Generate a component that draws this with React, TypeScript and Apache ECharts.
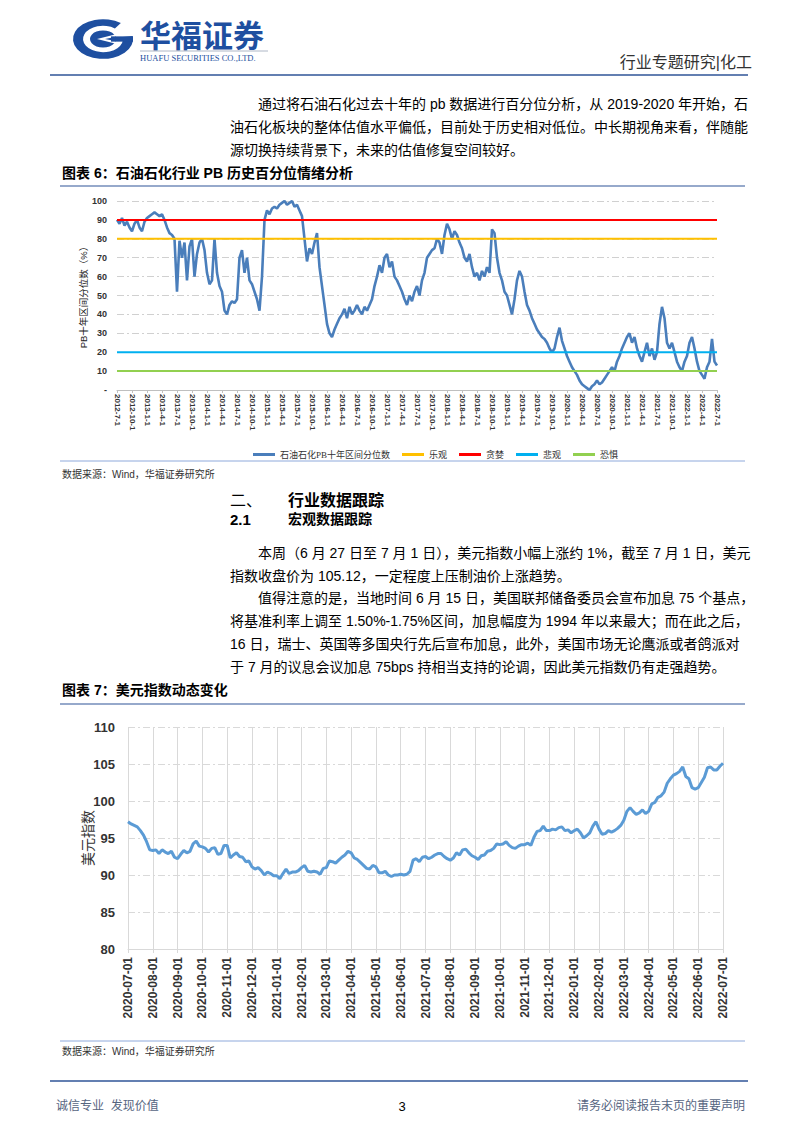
import React, { useEffect, useRef } from "react";
import * as echarts from "echarts";

const SANS = '"Liberation Sans", "Noto Sans CJK SC", sans-serif';
const SERIF = '"Liberation Serif", "Noto Sans CJK SC", serif';
const BLUE = "#1e4fa0";
const RULE = "#2f5597";

// ---------- Chart 6: PB percentile ----------
const pbQuarterLabels = [
  "2012-7-1", "2012-10-1", "2013-1-1", "2013-4-1", "2013-7-1", "2013-10-1",
  "2014-1-1", "2014-4-1", "2014-7-1", "2014-10-1", "2015-1-1", "2015-4-1",
  "2015-7-1", "2015-10-1", "2016-1-1", "2016-4-1", "2016-7-1", "2016-10-1",
  "2017-1-1", "2017-4-1", "2017-7-1", "2017-10-1", "2018-1-1", "2018-4-1",
  "2018-7-1", "2018-10-1", "2019-1-1", "2019-4-1", "2019-7-1", "2019-10-1",
  "2020-1-1", "2020-4-1", "2020-7-1", "2020-10-1", "2021-1-1", "2021-4-1",
  "2021-7-1", "2021-10-1", "2022-1-1", "2022-4-1", "2022-7-1",
];
const pbPointsPerQuarter = 6;
const pbSeriesName = "石油石化PB十年区间分位数";
const pbPercentile = [
  90, 88, 91, 87, 89, 86,
  84, 88, 90, 86, 84, 89,
  91, 92, 93, 94, 93, 92,
  93, 90, 86, 83, 82, 80,
  52, 79, 70, 78, 58, 76,
  80, 60, 72, 78, 80, 74,
  62, 56, 58, 80, 62, 55,
  52, 42, 40, 45, 47, 46,
  48, 70, 74, 62, 70, 58,
  56, 52, 48, 42, 60, 90,
  95, 93, 96, 97, 96, 98,
  99, 100, 98, 99, 100, 97,
  98, 95, 92, 80, 68, 75,
  72, 78, 83, 65, 55, 45,
  35, 30, 28, 32, 35, 38,
  40, 43, 38, 44, 40, 42,
  45, 42, 40, 44, 42, 45,
  48, 55, 60, 66, 62, 70,
  72, 65, 68, 60, 58, 55,
  52, 48, 45, 50, 47, 52,
  55, 50, 58, 62, 70, 72,
  74, 75, 80, 78, 72, 82,
  88, 85, 80, 84, 82, 78,
  75, 70, 68, 72, 65, 60,
  62, 58, 63, 60, 65, 62,
  85, 83, 70, 62, 58, 52,
  50, 45, 40, 48, 58, 63,
  60, 52, 45, 42, 38, 35,
  32, 30, 28, 27, 25, 22,
  20, 22, 28, 33, 26, 22,
  18, 15, 12, 10, 8, 5,
  3, 2, 1, 0, 2, 3,
  5, 3, 4, 6, 8, 10,
  12, 10, 15, 18, 22, 25,
  28, 30, 25, 28, 22, 18,
  15, 20, 25, 18, 22, 16,
  20, 35, 44, 38, 25, 22,
  25, 20, 15, 12, 10, 15,
  18, 25, 28, 22, 15, 10,
  8, 6, 12, 15, 27, 15,
  13,
];
const sentimentNames = ["乐观", "贪婪", "悲观", "恐惧"];
const sentimentLevels = [80, 90, 20, 10];
const sentimentColors = ["#ffc000", "#ff0000", "#00b0f0", "#92d050"];

// ---------- Chart 7: US dollar index ----------
const dxyMonthLabels = [
  "2020-07-01", "2020-08-01", "2020-09-01", "2020-10-01", "2020-11-01", "2020-12-01",
  "2021-01-01", "2021-02-01", "2021-03-01", "2021-04-01", "2021-05-01", "2021-06-01",
  "2021-07-01", "2021-08-01", "2021-09-01", "2021-10-01", "2021-11-01", "2021-12-01",
  "2022-01-01", "2022-02-01", "2022-03-01", "2022-04-01", "2022-05-01", "2022-06-01",
  "2022-07-01",
];
const dxyPointsPerMonth = 8;
const dxyValues = [
  97.2, 96.9, 96.7, 96.5, 96.0, 95.4, 94.5, 93.4,
  93.3, 93.4, 92.9, 93.4, 93.1, 92.9, 93.2, 92.4,
  92.2, 92.8, 93.3, 93.0, 93.2, 94.2, 94.6, 93.9,
  93.8, 93.6, 93.1, 93.6, 93.7, 92.8, 92.9, 94.0,
  94.0, 92.3, 92.7, 93.0, 92.5, 92.4, 91.8, 91.9,
  91.1, 90.8, 91.0, 90.6, 90.0, 90.4, 90.2, 89.9,
  89.9, 89.5, 90.2, 90.8, 90.2, 90.4, 90.4, 90.6,
  91.0, 91.3, 90.5, 90.4, 90.5, 90.4, 90.1, 90.9,
  91.0, 91.9, 91.8, 91.6, 92.0, 92.4, 92.7, 93.2,
  93.0, 92.3, 92.1, 91.7, 91.3, 90.9, 90.8, 91.3,
  91.1, 90.3, 90.3, 90.5, 90.0, 89.8, 90.0, 90.0,
  90.1, 90.0, 90.1, 90.5, 92.0, 92.2, 91.8, 92.4,
  92.5, 92.2, 92.4, 92.7, 92.9, 92.9, 92.5, 92.2,
  92.0, 92.3, 93.0, 92.7, 93.4, 93.5, 93.0, 92.6,
  92.4, 92.1, 92.6, 92.7, 93.2, 93.3, 93.6, 94.2,
  94.1, 94.2, 94.5, 94.0, 93.7, 93.6, 93.9, 94.1,
  94.1, 94.3, 94.0, 95.1, 95.9, 96.0, 96.6, 96.0,
  96.0, 96.2, 96.1, 96.4, 96.5, 96.0, 96.1, 95.7,
  96.0, 96.2, 95.7, 95.0, 95.3, 95.7, 96.6, 97.2,
  96.2, 95.5, 95.6, 96.0, 95.8, 96.0, 96.3, 96.7,
  97.4, 98.6, 99.1, 98.6, 98.2, 98.4, 98.8, 98.3,
  98.6, 99.6, 99.8, 100.5, 100.7, 101.2, 102.4, 103.0,
  103.5, 103.7, 104.0, 104.6, 103.3, 103.0, 101.8, 101.6,
  101.8, 102.5, 103.2, 104.5, 104.6, 104.2, 104.2, 104.7,
  105.1,
];

// ---------- page text ----------
const para1 = [
  "通过将石油石化过去十年的 pb 数据进行百分位分析，从 2019-2020 年开始，石",
  "油石化板块的整体估值水平偏低，目前处于历史相对低位。中长期视角来看，伴随能",
  "源切换持续背景下，未来的估值修复空间较好。",
];
const para2 = [
  "本周（6 月 27 日至 7 月 1 日），美元指数小幅上涨约 1%，截至 7 月 1 日，美元",
  "指数收盘价为 105.12，一定程度上压制油价上涨趋势。",
];
const para3 = [
  "值得注意的是，当地时间 6 月 15 日，美国联邦储备委员会宣布加息 75 个基点，",
  "将基准利率上调至 1.50%-1.75%区间，加息幅度为 1994 年以来最大；而在此之后，",
  "16 日，瑞士、英国等多国央行先后宣布加息，此外，美国市场无论鹰派或者鸽派对",
  "于 7 月的议息会议加息 75bps 持相当支持的论调，因此美元指数仍有走强趋势。",
];

function txt(text: string, x: number, y: number, o: any = {}) {
  return {
    type: "text",
    x,
    y,
    rotation: o.rotation || 0,
    style: {
      text,
      fill: o.fill || "#000",
      fontSize: o.size || 14,
      fontFamily: o.family || SANS,
      fontWeight: o.weight || "normal",
      align: o.align || "left",
      verticalAlign: "middle",
    },
  };
}
function hline(x1: number, x2: number, y: number, stroke: string, w = 1) {
  return { type: "line", shape: { x1, y1: y, x2, y2: y }, style: { stroke, lineWidth: w } };
}

export default function App() {
  const ref = useRef<HTMLDivElement>(null);
  useEffect(() => {
    document.body.style.margin = "0";
    const chart = echarts.init(ref.current!, null, { renderer: "svg" });

    const graphic: any[] = [];
    // logo
    graphic.push({
      type: "group",
      x: 103,
      y: 39,
      scaleY: 0.66,
      children: [
        { type: "sector", shape: { cx: 0, cy: 0, r: 30, r0: 20, startAngle: -0.15, endAngle: 5.35 }, style: { fill: BLUE } },
        { type: "circle", shape: { cx: 0, cy: 0, r: 13 }, style: { fill: BLUE } },
        { type: "polygon", shape: { points: [[12, -7], [-6, 0], [12, 7], [12, 3], [2, 0], [12, -3]] }, style: { fill: "#fff" } },
        { type: "rect", shape: { x: 8, y: -4, width: 22, height: 8 }, style: { fill: BLUE } },
      ],
    });
    graphic.push(txt("华福证券", 140, 36, { size: 31, weight: "bold", family: SERIF, fill: BLUE }));
    graphic.push(hline(140, 268, 51, "#9aa5b8", 0.8));
    graphic.push(txt("HUAFU SECURITIES CO.,LTD.", 140, 58, { size: 8.5, family: SERIF, fill: BLUE }));
    graphic.push(txt("行业专题研究|化工", 752, 62, { size: 16, align: "right", fill: "#333" }));
    graphic.push(hline(50, 748, 75, RULE, 1.5));

    // paragraph 1
    para1.forEach((s, i) => graphic.push(txt(s, i === 0 ? 258 : 230, 104 + i * 23)));
    graphic.push(txt("图表 6：石油石化行业 PB 历史百分位情绪分析", 62, 173, { weight: "bold", size: 14 }));
    graphic.push(hline(60, 745, 186, RULE, 1.2));
    graphic.push(txt("PB十年区间分位数（%）", 83, 295, { size: 9.5, rotation: Math.PI / 2, align: "center", fill: "#222" }));
    graphic.push(hline(60, 745, 461, "#8ea9db", 1));
    graphic.push(txt("数据来源：Wind，华福证券研究所", 62, 474, { size: 10, fill: "#333" }));

    // section headings
    graphic.push(txt("二、", 230, 500, { size: 16 }));
    graphic.push(txt("行业数据跟踪", 288, 500, { size: 16, weight: "bold" }));
    graphic.push(txt("2.1", 230, 519, { size: 15, weight: "bold" }));
    graphic.push(txt("宏观数据跟踪", 288, 519, { size: 14, weight: "bold" }));

    para2.forEach((s, i) => graphic.push(txt(s, i === 0 ? 258 : 230, 553 + i * 23)));
    para3.forEach((s, i) => graphic.push(txt(s, i === 0 ? 258 : 230, 598 + i * 23)));

    graphic.push(txt("图表 7：美元指数动态变化", 62, 690, { weight: "bold", size: 14 }));
    graphic.push(hline(60, 745, 704, RULE, 1.2));
    graphic.push(txt("美元指数", 88, 838, { size: 14, rotation: Math.PI / 2, align: "center", fill: "#333" }));
    graphic.push(hline(60, 745, 1041, "#8ea9db", 1));
    graphic.push(txt("数据来源：Wind，华福证券研究所", 62, 1051, { size: 10, fill: "#333" }));

    // footer
    graphic.push(hline(50, 748, 1081, RULE, 1.5));
    graphic.push(txt("诚信专业  发现价值", 56, 1106, { size: 12, fill: "#56657f" }));
    graphic.push(txt("3", 402, 1106, { size: 13, align: "center", family: SANS }));
    graphic.push(txt("请务必阅读报告末页的重要声明", 745, 1106, { size: 12, align: "right", fill: "#56657f" }));

    const pbData = pbPercentile.map((v, i) => [i / pbPointsPerQuarter, v]);
    const lastQ = pbQuarterLabels.length - 1;
    const dxyData = dxyValues.map((v, i) => [i / dxyPointsPerMonth, v]);
    const lastM = dxyMonthLabels.length - 1;

    const dashDot = [7, 3, 2, 3];

    const option: any = {
      animation: false,
      backgroundColor: "#fff",
      graphic,
      legend: {
        left: 248,
        top: 445,
        icon: "rect",
        itemWidth: 22,
        itemHeight: 3,
        itemGap: 12,
        textStyle: { fontSize: 9, fontFamily: SERIF, color: "#333" },
        data: [pbSeriesName, ...sentimentNames],
      },
      grid: [
        { left: 117, top: 201, width: 600, height: 189 },
        { left: 128, top: 727, width: 595, height: 222 },
      ],
      xAxis: [
        {
          type: "value",
          gridIndex: 0,
          min: 0,
          max: lastQ,
          interval: 1,
          axisLine: { lineStyle: { color: "#bfbfbf" } },
          axisTick: { show: true, length: 3, lineStyle: { color: "#bfbfbf" } },
          splitLine: { show: false },
          axisLabel: {
            rotate: -90,
            fontSize: 8,
            fontWeight: "bold",
            fontFamily: SANS,
            color: "#333",
            margin: 4,
            formatter: (v: number) => pbQuarterLabels[Math.round(v)] ?? "",
          },
        },
        {
          type: "value",
          gridIndex: 1,
          min: 0,
          max: lastM,
          interval: 1,
          axisLine: { lineStyle: { color: "#d9d9d9" } },
          axisTick: { show: true, length: 4, lineStyle: { color: "#d9d9d9" } },
          splitLine: { show: true, lineStyle: { color: "#d9d9d9", width: 1 } },
          axisLabel: {
            rotate: 90,
            fontSize: 12,
            fontWeight: "bold",
            fontFamily: SANS,
            color: "#333",
            margin: 8,
            formatter: (v: number) => dxyMonthLabels[Math.round(v)] ?? "",
          },
        },
      ],
      yAxis: [
        {
          type: "value",
          gridIndex: 0,
          min: 0,
          max: 100,
          interval: 10,
          axisLine: { show: false },
          axisTick: { show: false },
          splitLine: { lineStyle: { color: "#d0d0d0", type: dashDot } },
          axisLabel: {
            fontSize: 9,
            fontWeight: "bold",
            fontFamily: SANS,
            color: "#333",
            margin: 10,
            formatter: (v: number) => (v === 0 ? "-" : String(v)),
          },
        },
        {
          type: "value",
          gridIndex: 1,
          min: 80,
          max: 110,
          interval: 5,
          axisLine: { show: false },
          axisTick: { show: false },
          splitLine: { lineStyle: { color: "#d9d9d9", type: dashDot } },
          axisLabel: {
            fontSize: 13,
            fontWeight: "bold",
            fontFamily: SANS,
            color: "#333",
            margin: 13,
          },
        },
      ],
      series: [
        {
          name: pbSeriesName,
          type: "line",
          xAxisIndex: 0,
          yAxisIndex: 0,
          data: pbData,
          symbol: "none",
          lineStyle: { color: "#4a7ebb", width: 2.6 },
          itemStyle: { color: "#4a7ebb" },
        },
        ...sentimentNames.map((name, k) => ({
          name,
          type: "line",
          xAxisIndex: 0,
          yAxisIndex: 0,
          data: [
            [0, sentimentLevels[k]],
            [lastQ, sentimentLevels[k]],
          ],
          symbol: "none",
          lineStyle: { color: sentimentColors[k], width: 2 },
          itemStyle: { color: sentimentColors[k] },
        })),
        {
          name: "美元指数",
          type: "line",
          xAxisIndex: 1,
          yAxisIndex: 1,
          data: dxyData,
          symbol: "none",
          lineStyle: { color: "#5b9bd5", width: 3 },
          itemStyle: { color: "#5b9bd5" },
        },
      ],
    };
    chart.setOption(option);
    return () => chart.dispose();
  }, []);
  return (
    <div
      ref={ref}
      style={{ position: "absolute", left: 0, top: 0, width: 802, height: 1133, background: "#fff" }}
    />
  );
}
